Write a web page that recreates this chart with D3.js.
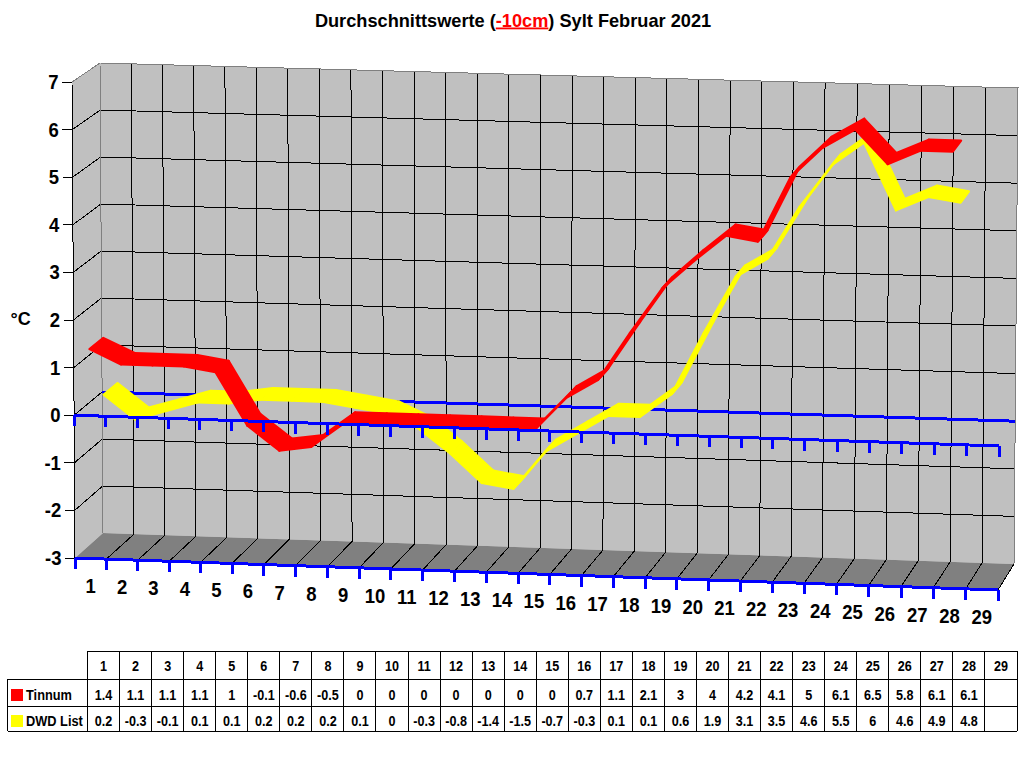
<!DOCTYPE html>
<html>
<head>
<meta charset="utf-8">
<script src="https://cdn.jsdelivr.net/npm/d3@7"></script>
<style>
html,body{margin:0;padding:0;background:#fff}
svg{display:block}
text{font-family:"Liberation Sans",Arial,sans-serif;font-weight:bold;fill:#000}
</style>
</head>
<body>
<svg id="c" width="1024" height="768"></svg>
<script>
// ---- data ----
const categories = d3.range(1, 30);
// plotted values, read from the ribbons
const tinnum = [1.4,1.1,1.1,1.1,1,-0.1,-0.6,-0.5,0,0,0,0,0,0,0,0.7,1.1,2.1,3.05,3.65,4.2,4.1,5.45,6.1,6.5,5.8,6.1,6.1,null];
const dwdList = [0.2,-0.3,-0.1,0.1,0.1,0.2,0.2,0.2,0.1,0,-0.3,-0.8,-1.4,-1.5,-0.7,-0.3,0.1,0.1,0.6,1.9,3.1,3.5,4.6,5.5,6,4.6,4.9,4.8,null];
// values as printed in the data table
const tinnumLabels = ["1.4","1.1","1.1","1.1","1","-0.1","-0.6","-0.5","0","0","0","0","0","0","0","0.7","1.1","2.1","3","4","4.2","4.1","5","6.1","6.5","5.8","6.1","6.1",""];
const dwdLabels = ["0.2","-0.3","-0.1","0.1","0.1","0.2","0.2","0.2","0.1","0","-0.3","-0.8","-1.4","-1.5","-0.7","-0.3","0.1","0.1","0.6","1.9","3.1","3.5","4.6","5.5","6","4.6","4.9","4.8",""];
const seriesNames = ["Tinnum", "DWD List"];
const seriesColors = ["#ff0000", "#ffff00"];
const yTicks = [7,6,5,4,3,2,1,0,-1,-2,-3];

// ---- layout: box corners of the 3D plot ----
const FL = {b:[75,558],  t:[72,82]};
const FR = {b:[998,590], t:[1002,110]};
const BL = {b:[103,533], t:[100,63]};
const BR = {b:[1014,564],t:[1018,88]};

const uScale = d3.scaleLinear().domain([0,5,23,29]).range([0,157/923,729/923,1]);
const vScale = d3.scaleLinear().domain([-3,7]).range([0,1]);
const mix = (a,b,t)=>[a[0]+(b[0]-a[0])*t, a[1]+(b[1]-a[1])*t];
function project(u,v,w){
  const s = uScale(u), h = vScale(v);
  const fl = mix(FL.b,FL.t,h), fr = mix(FR.b,FR.t,h), bl = mix(BL.b,BL.t,h), br = mix(BR.b,BR.t,h);
  return mix(mix(fl,fr,s), mix(bl,br,s), w);
}

const svg = d3.select("#c");
const path = d3.line();
const closed = pts => path(pts) + "Z";
const crisp = "crispEdges";

// walls
const gWalls = svg.append("g");
gWalls.append("path").attr("d", closed([project(0,-3,0),project(0,7,0),project(0,7,1),project(0,-3,1)])).attr("fill","#c0c0c0");
gWalls.append("path").attr("d", closed([project(0,-3,1),project(0,7,1),project(29,7,1),project(29,-3,1)])).attr("fill","#c0c0c0");
gWalls.append("path").attr("d", closed([project(0,-3,0),project(29,-3,0),project(29,-3,1),project(0,-3,1)])).attr("fill","#808080");

// gridlines
const gGrid = svg.append("g").attr("fill","none").attr("stroke","#000").attr("stroke-width",1).attr("shape-rendering",crisp);
yTicks.filter(v=>v>-3 && v<7).forEach(v=>{
  gGrid.append("path").attr("d", path([project(0,v,0),project(0,v,1),project(29,v,1)]));
});
d3.range(1,29).forEach(u=>{
  gGrid.append("path").attr("d", path([project(u,-3,0),project(u,-3,1),project(u,7,1)]));
});
// wall edges
gGrid.append("path").attr("d", path([project(0,7,0),project(0,-3,0)]));
gGrid.append("path").attr("d", path([project(29,-3,0),project(29,-3,1)]));
const gEdge = svg.append("g").attr("fill","none").attr("stroke","#808080").attr("stroke-width",1).attr("shape-rendering",crisp);
gEdge.append("path").attr("d", path([project(0,7,0),project(0,7,1),project(29,7,1),project(29,-3,1)]));
gEdge.append("path").attr("d", path([project(0,7,1),project(0,-3,1)]));

// y ticks and labels
const gY = svg.append("g");
yTicks.forEach(v=>{
  const p = project(0,v,0);
  gY.append("line").attr("x1",p[0]-10).attr("x2",p[0]).attr("y1",p[1]).attr("y2",p[1])
    .attr("stroke","#000").attr("stroke-width",1).attr("shape-rendering",crisp);
  gY.append("text").attr("transform",`translate(${p[0]-13.5},${p[1]+7}) scale(1,1.1)`)
    .attr("text-anchor","end").attr("font-size",18.5).text(v);
});
svg.append("text").attr("x",10.5).attr("y",325).attr("font-size",18).text("°C");

// back zero axis
const blue = "#0000ff";
const gBack = svg.append("g").attr("shape-rendering",crisp);
gBack.append("path").attr("d", path([project(0,0,1),project(29,0,1)])).attr("fill","none").attr("stroke",blue).attr("stroke-width",3);

// series ribbons (each ribbon sits in its own depth slot)
function ribbon(values,color,w0,w1){
  const g = svg.append("g").attr("fill",color).attr("stroke",color).attr("stroke-width",2.2).attr("stroke-linejoin","round");
  values.forEach((v,i)=>{
    const n = values[i+1];
    if (v==null || n==null) return;
    const a=i+0.5,b=i+1.5;
    g.append("path").attr("d", closed([project(a,v,w0),project(b,n,w0),project(b,n,w1),project(a,v,w1)]));
  });
}
ribbon(dwdList, seriesColors[1], 0.5, 1);
ribbon(tinnum, seriesColors[0], 0, 0.5);

// front axes with ticks
function frontAxis(v, len){
  const g = svg.append("g").attr("stroke",blue).attr("fill","none").attr("shape-rendering",crisp);
  g.append("path").attr("d", path([project(0,v,0),project(29,v,0)])).attr("stroke-width",3);
  d3.range(0,30).forEach(u=>{
    const p = project(u,v,0);
    g.append("line").attr("x1",p[0]).attr("x2",p[0]).attr("y1",p[1]).attr("y2",p[1]+len).attr("stroke-width",3);
  });
}
frontAxis(0,11);
frontAxis(-3,11);

// category labels
const gX = svg.append("g");
categories.forEach((c,i)=>{
  const p = project(i+0.5,-3,0);
  gX.append("text").attr("transform",`translate(${p[0]},${p[1]+34.5}) scale(1,1.1)`)
    .attr("text-anchor","middle").attr("font-size",18.5).text(c);
});

// title
const title = svg.append("text").attr("x",513).attr("y",26.5).attr("text-anchor","middle").attr("font-size",18.2);
title.append("tspan").text("Durchschnittswerte (");
title.append("tspan").attr("style","fill:#ff0000").attr("text-decoration","underline").text("-10cm");
title.append("tspan").text(") Sylt Februar 2021");

// data table
const colX = d3.scaleLinear().domain([0,29]).range([87.5,1017]);
const rowY = [651,679,706,731];
const leftX = 7.5;
const gT = svg.append("g").attr("shape-rendering",crisp).attr("stroke","#000").attr("stroke-width",1);
gT.append("line").attr("x1",colX(0)).attr("x2",colX(29)).attr("y1",rowY[0]).attr("y2",rowY[0]);
[1,2,3].forEach(r=>gT.append("line").attr("x1",leftX).attr("x2",colX(29)).attr("y1",rowY[r]).attr("y2",rowY[r]));
gT.append("line").attr("x1",leftX).attr("x2",leftX).attr("y1",rowY[1]).attr("y2",rowY[3]);
d3.range(0,30).forEach(i=>gT.append("line").attr("x1",colX(i)).attr("x2",colX(i)).attr("y1",rowY[0]).attr("y2",rowY[3]));

function cell(str,x,yBase,anchor,size){
  svg.append("text").attr("transform",`translate(${x},${yBase}) scale(1,1.2)`)
    .attr("text-anchor",anchor).attr("font-size",size).text(str);
}
categories.forEach((c,i)=>cell(c,colX(i+0.5),670.5,"middle",12.6));
[tinnumLabels,dwdLabels].forEach((vals,r)=>{
  const base = [700,726][r];
  vals.forEach((v,i)=>{ if(v!=="") cell(v,colX(i+0.5),base,"middle",12.6); });
  svg.append("rect").attr("x",11).attr("y",[689,715][r]).attr("width",12).attr("height",12).attr("fill",seriesColors[r]);
  cell(seriesNames[r],26,base,"start",12.8);
});
</script>
</body>
</html>
